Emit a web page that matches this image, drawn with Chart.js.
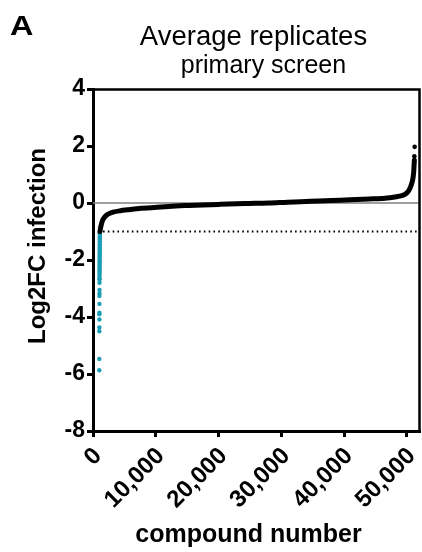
<!DOCTYPE html>
<html><head><meta charset="utf-8">
<script src="https://cdn.jsdelivr.net/npm/chart.js@4/dist/chart.umd.min.js"></script>
<style>html,body{margin:0;padding:0;background:#fff}#wrap{width:422px;height:552px;position:relative}</style>
</head><body><div id="wrap"><canvas id="c" width="422" height="552"></canvas></div>
<script>
const panelLabel = 'A';
const titleText = 'Average replicates';
const subtitleText = 'primary screen';
const xTitle = 'compound number';
const yTitle = 'Log2FC infection';
const xTicks = [0, 10000, 20000, 30000, 40000, 50000];
const yTicks = [-8, -6, -4, -2, 0, 2, 4];
const xRange = [0, 52100];
const yRange = [-8, 4];

// sorted compound curve (black)
const curveX = [1120, 1200, 1300, 1420, 1550, 1700, 1900, 2100, 2340, 2700, 3200, 4400, 5500, 7000, 9800, 12000, 14600, 17500, 20000, 24200, 28000, 31000, 34600, 38000, 41000, 44000, 46500, 47850, 48800, 49700, 50200, 50500, 50800, 51000, 51100, 51150, 51200];
const curveY = [-1.00, -0.88, -0.78, -0.68, -0.60, -0.54, -0.48, -0.44, -0.40, -0.36, -0.32, -0.27, -0.24, -0.20, -0.16, -0.12, -0.09, -0.07, -0.05, -0.02, 0.00, 0.03, 0.06, 0.09, 0.11, 0.14, 0.17, 0.20, 0.24, 0.30, 0.40, 0.52, 0.70, 0.90, 1.10, 1.30, 1.50];
// isolated top compounds
const topX = [51200, 51250];
const topY = [1.64, 1.97];
// hits below threshold (cyan)
const hitX = [1000, 1005, 1010, 1013, 1016, 1019, 1022, 1025, 1028, 1031, 1034, 1037, 1040, 1042, 1044, 1046, 1048, 1050, 1052, 1054, 1056, 1058, 1060, 1062, 1064, 1066, 1068, 1070, 1072, 1074, 1076, 1078, 1080, 1082, 1084, 1086, 1088, 1090, 1092, 1094, 1096, 1098, 1100];
const hitY = [-5.87, -5.47, -4.50, -4.37, -4.09, -3.90, -3.85, -3.54, -3.26, -3.17, -3.05, -2.80, -2.68, -2.64, -2.55, -2.47, -2.40, -2.34, -2.28, -2.22, -2.16, -2.10, -2.04, -1.98, -1.92, -1.86, -1.80, -1.74, -1.68, -1.62, -1.56, -1.50, -1.45, -1.40, -1.35, -1.30, -1.25, -1.20, -1.16, -1.12, -1.08, -1.04, -1.01];
// reference lines
const zeroLineX = [0, 52100];
const zeroLineY = [0, 0];
const thresholdX = [1600, 51900];
const thresholdY = [-1, -1];

const pts = (xs, ys) => xs.map((x, i) => ({x, y: ys[i]}));
const FONT = "'Liberation Sans', Arial, Helvetica, sans-serif";
const CYAN = '#1c9db6';

const textPlugin = {
  id: 'texts',
  afterDraw(chart) {
    const ctx = chart.ctx, a = chart.chartArea;
    ctx.save();
    // frame top and right
    ctx.strokeStyle = '#000';
    ctx.lineWidth = 2.5;
    ctx.beginPath();
    ctx.moveTo(a.left, a.top + 0.5);
    ctx.lineTo(a.right - 0.5, a.top + 0.5);
    ctx.lineTo(a.right - 0.5, a.bottom);
    ctx.stroke();
    ctx.fillStyle = '#000';
    ctx.textBaseline = 'alphabetic';
    ctx.save();
    ctx.translate(10, 35);
    ctx.scale(1.2, 1);
    ctx.font = 'bold 27px ' + FONT;
    ctx.textAlign = 'left';
    ctx.fillText(panelLabel, 0, 0);
    ctx.restore();
    ctx.font = '27.5px ' + FONT;
    ctx.textAlign = 'center';
    ctx.fillText(titleText, 253.5, 45);
    ctx.font = '25px ' + FONT;
    ctx.fillText(subtitleText, 263.5, 72.5);
    ctx.font = 'bold 25px ' + FONT;
    ctx.fillText(xTitle, 248.5, 541.5);
    ctx.translate(45, 246);
    ctx.rotate(-Math.PI / 2);
    ctx.font = 'bold 24px ' + FONT;
    ctx.fillText(yTitle, 0, 0);
    ctx.restore();
  }
};

new Chart(document.getElementById('c'), {
  type: 'scatter',
  data: {
    datasets: [
      {data: pts(zeroLineX, zeroLineY), showLine: true, borderColor: '#808080', borderWidth: 1.5, pointRadius: 0, order: 5},
      {data: pts(thresholdX, thresholdY), showLine: true, borderColor: '#000', borderWidth: 2, borderDash: [1.6, 3.2], pointRadius: 0, order: 4},
      {data: pts(curveX, curveY), showLine: true, borderColor: '#000', borderWidth: 5, cubicInterpolationMode: 'monotone', pointRadius: 0, order: 1, borderCapStyle: 'round'},
      {data: pts(topX, topY), backgroundColor: '#000', borderWidth: 0, pointRadius: 2.3, order: 1},
      {data: pts(hitX, hitY), backgroundColor: CYAN, borderWidth: 0, pointRadius: 2.2, order: 2}
    ]
  },
  options: {
    responsive: false,
    animation: false,
    devicePixelRatio: 1,
    layout: {autoPadding: false, padding: {left: 0, top: 89, right: 2, bottom: 0}},
    plugins: {legend: {display: false}, tooltip: {enabled: false}, title: {display: false}},
    scales: {
      x: {
        type: 'linear', min: xRange[0], max: xRange[1],
        afterBuildTicks: s => { s.ticks = xTicks.map(v => ({value: v})); },
        afterFit: s => { s.height = 121; s.paddingRight = 0; s.paddingLeft = 0; },
        border: {display: true, color: '#000', width: 3},
        grid: {drawOnChartArea: false, drawTicks: true, tickLength: 6, tickWidth: 3, tickColor: '#000'},
        ticks: {color: '#000', font: {family: FONT, size: 24, weight: 'bold'}, minRotation: 45, maxRotation: 45, padding: 5, labelOffset: 5,
          callback: v => v.toLocaleString('en-US')}
      },
      y: {
        type: 'linear', min: yRange[0], max: yRange[1],
        afterBuildTicks: s => { s.ticks = yTicks.map(v => ({value: v})); },
        afterFit: s => { s.width = 93; s.paddingTop = 0; s.paddingBottom = 0; },
        border: {display: true, color: '#000', width: 3},
        grid: {drawOnChartArea: false, drawTicks: true, tickLength: 6, tickWidth: 3, tickColor: '#000'},
        ticks: {color: '#000', font: {family: FONT, size: 23, weight: 'bold'}, padding: 2}
      }
    }
  },
  plugins: [textPlugin]
});
</script></body></html>
